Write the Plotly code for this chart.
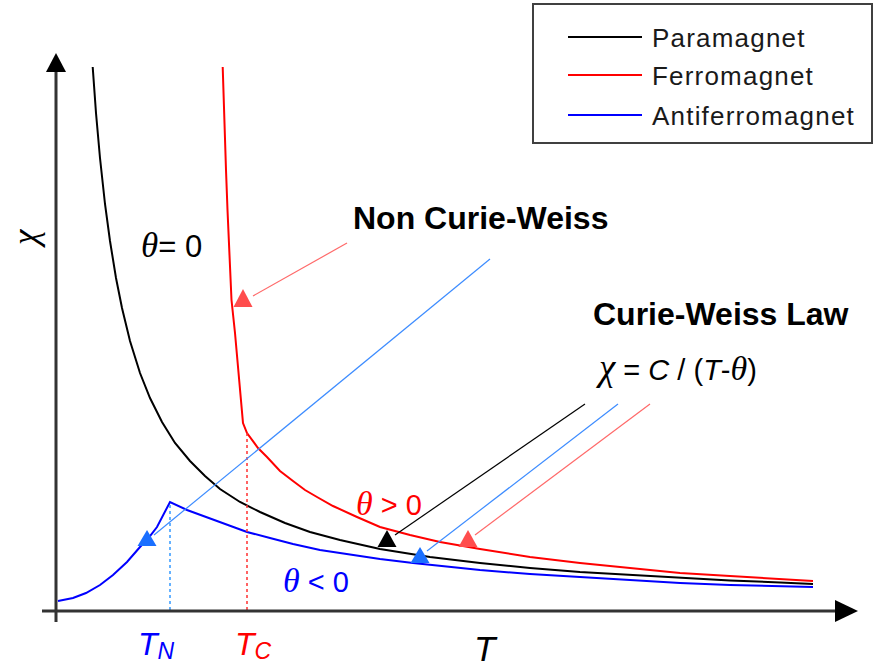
import plotly.graph_objects as go

# Magnetic susceptibility chi versus temperature T (arbitrary units)
para_T = [0.367, 0.40, 0.44, 0.49, 0.54, 0.60, 0.66, 0.74, 0.84, 0.94, 1.06, 1.19, 1.34, 1.49,
          1.64, 1.84, 2.04, 2.29, 2.54, 2.84, 3.24, 3.74, 4.24, 4.74, 5.24, 5.74, 6.24, 6.74, 7.24, 7.57]
para_chi = [5.43, 4.97, 4.52, 4.06, 3.69, 3.32, 3.02, 2.69, 2.37, 2.12, 1.88, 1.67, 1.49, 1.34,
            1.21, 1.08, 0.98, 0.87, 0.78, 0.70, 0.61, 0.53, 0.47, 0.42, 0.38, 0.35, 0.32, 0.295, 0.275, 0.26]

ferro_T = [1.667, 1.68, 1.70, 1.715, 1.73, 1.755, 1.79, 1.82, 1.855, 1.87, 1.91, 2.02, 2.11, 2.24, 2.37,
           2.49, 2.61, 2.77, 3.01, 3.24, 3.54, 3.84, 4.24, 4.74, 5.24, 5.74, 6.24, 6.74, 7.24, 7.57]
ferro_chi = [5.43, 4.97, 4.40, 4.00, 3.60, 3.10, 2.77, 2.43, 2.10, 1.87, 1.77, 1.62, 1.53, 1.39, 1.29,
             1.20, 1.13, 1.04, 0.93, 0.83, 0.75, 0.68, 0.61, 0.53, 0.47, 0.42, 0.37, 0.34, 0.31, 0.29]

anti_T = [0.02, 0.17, 0.30, 0.44, 0.57, 0.71, 0.84, 0.94, 1.01, 1.07, 1.14, 1.31, 1.47, 1.61, 1.74, 1.91,
          2.14, 2.37, 2.64, 2.97, 3.24, 3.57, 3.94, 4.24, 4.74, 5.24, 5.74, 6.24, 6.74, 7.24, 7.57]
anti_chi = [0.09, 0.12, 0.17, 0.25, 0.35, 0.48, 0.63, 0.74, 0.83, 0.95, 1.08, 1.00, 0.94, 0.89, 0.84, 0.78,
            0.72, 0.66, 0.60, 0.55, 0.51, 0.47, 0.43, 0.40, 0.36, 0.33, 0.30, 0.27, 0.25, 0.24, 0.23]

# Neel and Curie temperatures and chi at each transition
T_N, chi_N = 1.14, 1.08
T_C, chi_C = 1.91, 1.77

series_names = ["Paramagnet", "Ferromagnet", "Antiferromagnet"]
series_colors = ["#000000", "#ff0000", "#0000ff"]

W, H = 879, 670
SCALE = 100.0          # pixels per unit
OX, OY = 56, 610       # pixel position of the origin


def X(px):
    return (px - OX) / SCALE


def Y(py):
    return (OY - py) / SCALE


fig = go.Figure()

for name, color, tx, cy in zip(series_names, series_colors,
                               [para_T, ferro_T, anti_T], [para_chi, ferro_chi, anti_chi]):
    fig.add_trace(go.Scatter(x=tx, y=cy, mode="lines", name=name, showlegend=False,
                             line=dict(color=color, width=2), hoverinfo="skip"))

# dotted markers for the transition temperatures
fig.add_trace(go.Scatter(x=[T_N, T_N], y=[0, chi_N], mode="lines", showlegend=False,
                         line=dict(color="#3399ff", width=1.5, dash="dot"), hoverinfo="skip"))
fig.add_trace(go.Scatter(x=[T_C, T_C], y=[0, chi_C], mode="lines", showlegend=False,
                         line=dict(color="#ff3030", width=1.5, dash="dot"), hoverinfo="skip"))

shapes = []


def tri(tip_x, tip_y, base_y, half_w, color):
    p = "M {} {} L {} {} L {} {} Z".format(
        X(tip_x), Y(tip_y), X(tip_x - half_w), Y(base_y), X(tip_x + half_w), Y(base_y))
    return dict(type="path", path=p, xref="x", yref="y", fillcolor=color,
                line=dict(color=color, width=0))


def seg(x0, y0, x1, y1, color, width, dash="solid"):
    return dict(type="line", xref="x", yref="y", x0=X(x0), y0=Y(y0), x1=X(x1), y1=Y(y1),
                line=dict(color=color, width=width, dash=dash))


# axes with arrow heads
shapes.append(seg(56, 622, 56, 70, "#333333", 3))
shapes.append(seg(42, 611, 838, 611, "#333333", 3))
shapes.append(tri(56, 53, 72, 10, "#000000"))
shapes.append(dict(type="path", xref="x", yref="y", fillcolor="#000000", line=dict(width=0),
                   path="M {} {} L {} {} L {} {} Z".format(X(858), Y(611), X(835), Y(600), X(835), Y(622))))

# pointer lines with triangular heads
pointers = [
    # (line start, line end, tip, base_y, line colour, head colour)
    ((490, 259), (154, 535), (147, 530), 546, "#3d8cff", "#1a6fff"),
    ((347, 243), (253, 296), (243, 289), 307, "#ff6a6a", "#ff4d4d"),
    ((585, 404), (395, 535), (387, 530), 547, "#000000", "#000000"),
    ((618, 404), (427, 551), (420, 547), 563, "#3d8cff", "#1a6fff"),
    ((650, 404), (475, 535), (468, 530), 547, "#ff6a6a", "#ff4d4d"),
]
for (a, b, tip, base, lc, hc) in pointers:
    shapes.append(seg(a[0], a[1], b[0], b[1], lc, 1.2))
    shapes.append(tri(tip[0], tip[1], base, 9.5, hc))

# legend box
shapes.append(dict(type="rect", xref="x", yref="y", x0=X(533), y0=Y(4), x1=X(872), y1=Y(143),
                   line=dict(color="#404040", width=2), fillcolor="rgba(0,0,0,0)"))
leg_y = [37, 75, 115]
for name, color, ly in zip(series_names, series_colors, leg_y):
    shapes.append(seg(568, ly, 642, ly, color, 2))

SANS = "Liberation Sans, Arial, sans-serif"


def greek(ch, size):
    return ('<span style="font-family:Liberation Serif;font-size:{}px"><i>{}</i></span>'
            .format(size, ch))


def sub(ch, size):
    return ('<span style="font-size:{}px;baseline-shift:-4px"><i>{}</i></span>'
            .format(size, ch))


annotations = []


def label(text, px, py, size, color="#000000", xanchor="center", yanchor="middle", angle=0):
    annotations.append(dict(text=text, x=X(px), y=Y(py), xref="x", yref="y", showarrow=False,
                            xanchor=xanchor, yanchor=yanchor, textangle=angle,
                            font=dict(family=SANS, size=size, color=color)))


for name, ly in zip(series_names, leg_y):
    label('<span style="letter-spacing:1.2px">' + name + '</span>', 650, ly + 1, 26, "#1a1a1a",
          xanchor="left")

label("<b>Non Curie-Weiss</b>", 480, 218, 32)
label("<b>Curie-Weiss Law</b>", 721, 314, 32)
label(greek("χ", 37) + " = <i>C</i> / (<i>T</i>-" + greek("θ", 34) + ")", 676, 367, 29)
label(greek("θ", 35) + "= 0", 171, 245, 31)
label(greek("θ", 34) + " > 0", 389, 503, 29, "#ff0000")
label(greek("θ", 34) + " < 0", 316, 580, 29, "#0000ff")
label("<i>T</i>" + sub("N", 23), 156, 666, 32, "#0000ff", yanchor="bottom")
label("<i>T</i>" + sub("C", 23), 253, 666, 32, "#ff0000", yanchor="bottom")
label("<i>T</i>", 486, 670, 35, yanchor="bottom")
label(greek("χ", 35), 25, 238, 30, angle=-90)

fig.update_layout(
    width=W, height=H,
    margin=dict(l=0, r=0, t=0, b=0, pad=0),
    paper_bgcolor="white", plot_bgcolor="white",
    xaxis=dict(range=[X(0), X(W)], visible=False, fixedrange=True),
    yaxis=dict(range=[Y(H), Y(0)], visible=False, fixedrange=True),
    shapes=shapes, annotations=annotations, showlegend=False,
)

fig.write_html("out.html")
